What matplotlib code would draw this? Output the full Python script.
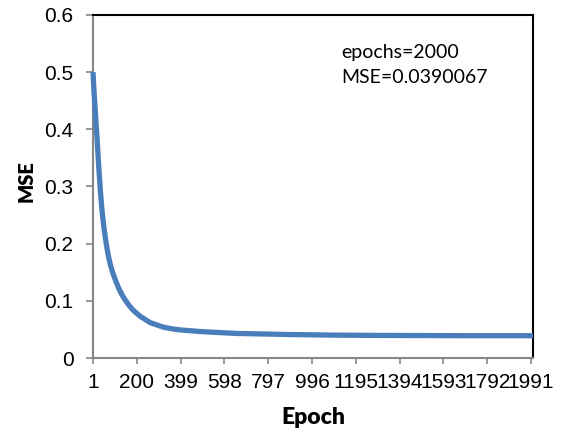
import matplotlib.pyplot as plt
import numpy as np

plt.rcParams["font.family"] = ["Liberation Sans", "DejaVu Sans"]

# values
epochs = [1, 5, 10, 15, 20, 27, 35, 42, 50, 60, 70, 80, 90, 105, 120, 135,
          150, 165, 180, 200, 215, 240, 260, 290, 320, 360, 400, 450, 500,
          575, 650, 775, 900, 1100, 1300, 1700, 2000]
mse = [0.500, 0.47, 0.44, 0.41, 0.38, 0.335, 0.29, 0.258, 0.23, 0.203, 0.18,
       0.163, 0.15, 0.134, 0.12, 0.109, 0.10, 0.092, 0.085, 0.078, 0.073,
       0.067, 0.062, 0.058, 0.054, 0.051, 0.049, 0.0475, 0.046, 0.0445, 0.043,
       0.042, 0.041, 0.040, 0.0395, 0.039, 0.039]
xticks = [1, 200, 399, 598, 797, 996, 1195, 1394, 1593, 1792, 1991]
yticks = [0, 0.1, 0.2, 0.3, 0.4, 0.5, 0.6]

gray = "#868686"

fig = plt.figure(figsize=(5.62, 4.36), dpi=100)
ax = fig.add_axes([93/562, 1 - 358/436, 440/562, 343/436])

ax.plot(epochs, mse, color="#4A7EBB", linewidth=3.8, solid_capstyle="butt",
        solid_joinstyle="round", clip_on=False, zorder=3)

ax.set_xlim(1, 2000)
ax.set_ylim(0, 0.6)
ax.set_xticks(xticks)
ax.set_xticklabels([str(t) for t in xticks])
ax.set_yticks(yticks)
ax.set_yticklabels(["0"] + ["%.1f" % t for t in yticks[1:]])

for s in ["left", "bottom"]:
    ax.spines[s].set_color(gray)
    ax.spines[s].set_linewidth(1.5)
for s in ["top", "right"]:
    ax.spines[s].set_color("black")
    ax.spines[s].set_linewidth(1.5)

ax.tick_params(axis="x", direction="out", length=4, width=1.2, color=gray,
               pad=7, labelsize=15)
ax.tick_params(axis="y", direction="out", length=5, width=1.2, color=gray,
               pad=9, labelsize=15)

ax.set_xlabel("Epoch", family="Lato", fontweight="heavy", fontsize=16.5)
ax.xaxis.set_label_coords(0.5, -0.143)
ax.set_ylabel("MSE", family="Lato", fontweight="heavy", fontsize=14.5)
ax.yaxis.set_label_coords(-0.13, 0.515)

fig.text(341/562, 1 - 58/436, "epochs=2000", family="Lato", fontsize=14,
         va="baseline")
fig.text(341/562, 1 - 83/436, "MSE=0.0390067", family="Lato", fontsize=14,
         va="baseline")

fig.savefig("out.png", dpi=100)
